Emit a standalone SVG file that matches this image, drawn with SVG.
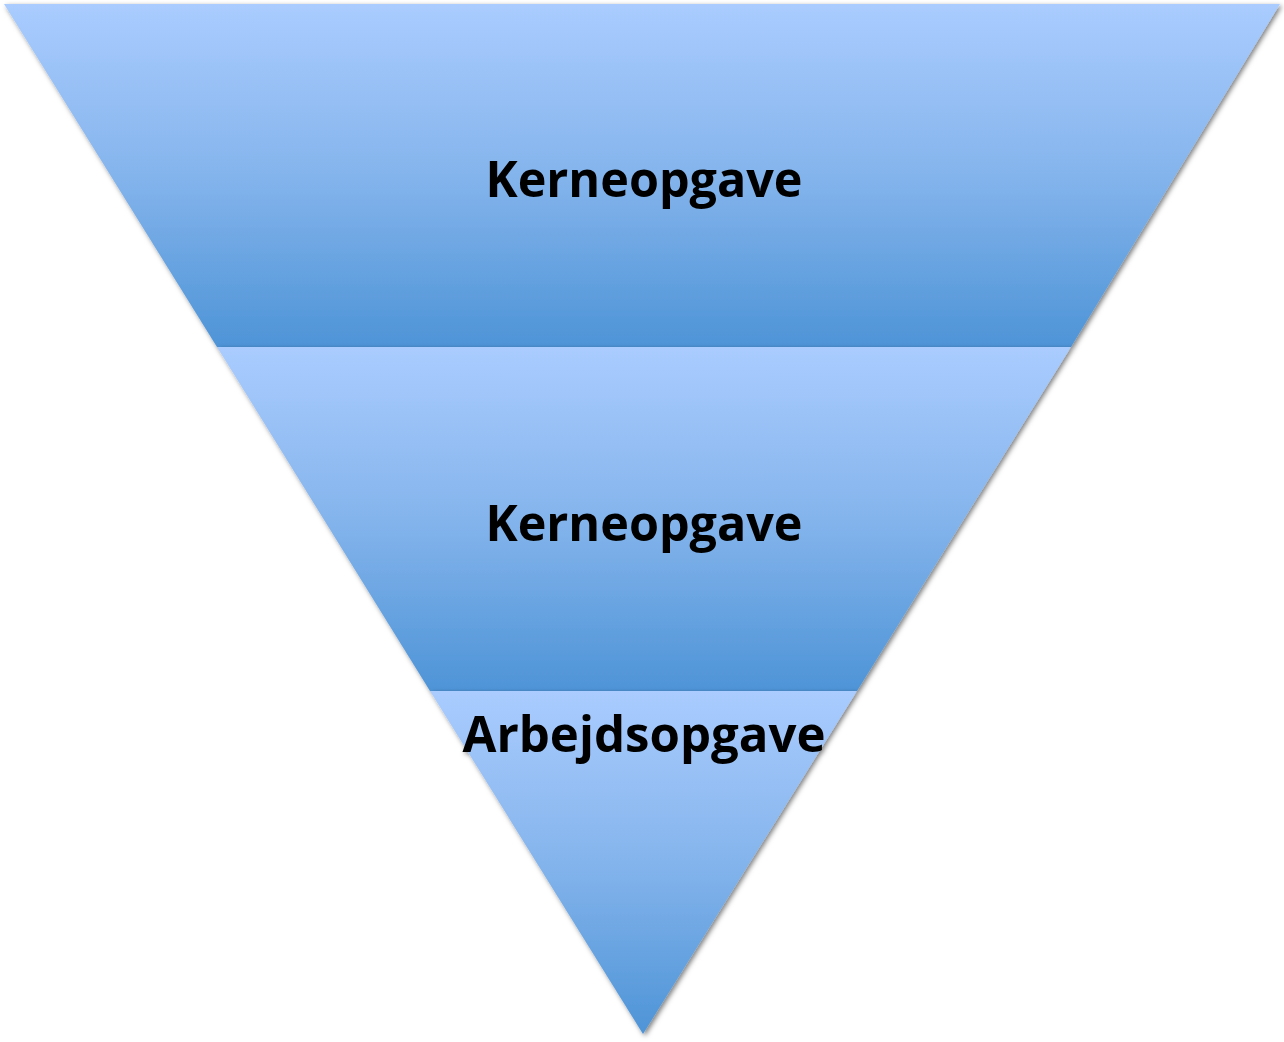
<svg xmlns="http://www.w3.org/2000/svg" width="1284" height="1042" viewBox="0 0 1284 1042">
<defs>
<linearGradient id="g" x1="0" y1="0" x2="0" y2="1">
<stop offset="0" stop-color="#AACCFF"/>
<stop offset="0.5" stop-color="#84B4EC"/>
<stop offset="1" stop-color="#4E94D7"/>
</linearGradient>
<filter id="sh" x="-5%" y="-5%" width="110%" height="110%">
<feDropShadow dx="2" dy="2" stdDeviation="2.5" flood-color="#000" flood-opacity="0.5"/>
</filter>
<style>
.t{font-family:"Open Sans","Noto Sans",sans-serif;font-weight:bold;font-size:51px;fill:#000;text-anchor:middle}
</style>
</defs>
<rect width="1284" height="1042" fill="#fff"/>
<g id="seg1" filter="url(#sh)">
<polygon points="4,4 1280,4 1071,347 217,347" fill="url(#g)"/>
<text class="t" x="644" y="197" textLength="317" lengthAdjust="spacingAndGlyphs">Kerneopgave</text>
</g>
<g id="seg2" filter="url(#sh)">
<polygon points="217,347 1071,347 857,691 430,691" fill="url(#g)"/>
<text class="t" x="644" y="541" textLength="317" lengthAdjust="spacingAndGlyphs">Kerneopgave</text>
</g>
<g id="seg3" filter="url(#sh)">
<polygon points="430,691 857,691 643,1034" fill="url(#g)"/>
<text class="t" x="644" y="752" textLength="363" lengthAdjust="spacingAndGlyphs">Arbejdsopgave</text>
</g>
<g id="connectors"/>
</svg>
